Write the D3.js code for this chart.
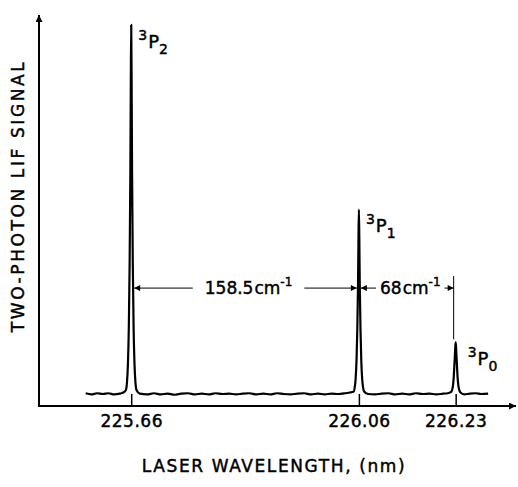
<!DOCTYPE html>
<html>
<head>
<meta charset="utf-8">
<script src="https://cdn.jsdelivr.net/npm/d3@7"></script>
<style>
  body { margin: 0; background: #fff; }
  text { font-family: "DejaVu Sans", sans-serif; fill: #000; stroke: #000; stroke-width: 0.45px; }
</style>
</head>
<body>
<div id="chart"></div>
<script>
// laser wavelength (nm) and LIF signal (arb. units)
const wavelength = [
  225.580, 225.590, 225.600, 225.610, 225.620, 225.630, 225.640, 225.646,
  225.6505, 225.6525, 225.6542, 225.6558, 225.6572, 225.6585, 225.6593, 225.660,
  225.6607, 225.6615, 225.6628, 225.6642, 225.6658, 225.6675, 225.6695,
  225.675, 225.688, 225.700, 225.712, 225.724, 225.736, 225.748, 225.760, 225.772, 225.784, 225.796, 225.808,
  225.820, 225.832, 225.844, 225.856, 225.868, 225.880, 225.892, 225.904, 225.916, 225.928, 225.940, 225.952,
  225.964, 225.976, 225.988, 226.000, 226.012, 226.024, 226.036, 226.044,
  226.0505, 226.0525, 226.0542, 226.0558, 226.0572, 226.0585, 226.0593, 226.060,
  226.0607, 226.0615, 226.0628, 226.0642, 226.0658, 226.0675, 226.0695,
  226.076, 226.088, 226.100, 226.112, 226.124, 226.136, 226.148, 226.160, 226.172, 226.184, 226.196, 226.208, 226.216,
  226.2215, 226.2235, 226.2252, 226.2266, 226.2278, 226.2288, 226.2294, 226.230,
  226.2306, 226.2312, 226.2322, 226.2334, 226.2348, 226.2365, 226.2385,
  226.245, 226.255, 226.265, 226.275, 226.287
];
const signal = [
  0.2, -0.1, 0.2, 0.0, 0.2, -0.1, 0.1, 0.4,
  1.0, 3, 8, 18, 35, 60, 85, 100,
  85, 60, 35, 18, 8, 3, 1.0,
  0.1, -0.1, 0.2, -0.1, 0.1, -0.2, 0.1, 0.2, -0.1, 0.1, -0.1, 0.2,
  0.0, 0.1, -0.1, 0.1, 0.2, -0.1, 0.1, -0.1, 0.2, 0.0, -0.1, 0.1,
  0.2, -0.1, 0.1, -0.1, 0.1, 0.0, 0.2, 0.4,
  0.6, 1.6, 4, 9, 17.5, 30, 42.5, 50,
  42.5, 30, 17.5, 9, 4, 1.6, 0.6,
  0.0, -0.1, 0.1, 0.2, -0.1, 0.1, -0.1, 0.2, 0.0, 0.1, -0.1, 0.1, 0.2,
  0.5, 1.0, 2.2, 4.5, 8, 11, 13, 14,
  13, 11, 8, 4.5, 2.2, 1.0, 0.4,
  -0.1, 0.1, 0.2, 0.0, 0.1
];

// transitions: labelled peaks
const peakWl = [225.66, 226.06, 226.23];
const peakTerm = ["2", "1", "0"];
const tickLabels = ["225.66", "226.06", "226.23"];
const spacingLabels = ["158.5", "68"];

const WIDTH = 518, HEIGHT = 487;
const X0 = 39, X1 = 516, Y0 = 406, Y1 = 15;

let x = d3.scaleLinear().domain([225.498, 226.336]).range([X0, X1]);
let y = d3.scaleLinear().domain([-3.25, 102.7]).range([Y0, Y1]);

let svg = d3.select("#chart").append("svg")
  .attr("width", WIDTH)
  .attr("height", HEIGHT);

let defs = svg.append("defs");
defs.append("marker")
  .attr("id", "arrow")
  .attr("viewBox", "0 0 10 10")
  .attr("refX", 10).attr("refY", 5)
  .attr("markerWidth", 12).attr("markerHeight", 7)
  .attr("markerUnits", "userSpaceOnUse")
  .attr("orient", "auto")
  .append("path").attr("d", "M0,0L10,5L0,10Z").attr("fill", "#000");
defs.append("marker")
  .attr("id", "arrowSmall")
  .attr("viewBox", "0 0 10 10")
  .attr("refX", 10).attr("refY", 5)
  .attr("markerWidth", 9).attr("markerHeight", 6)
  .attr("markerUnits", "userSpaceOnUse")
  .attr("orient", "auto")
  .append("path").attr("d", "M0,0L10,5L0,10Z").attr("fill", "#000");

// axes with arrow tips
svg.append("line")
  .attr("x1", X0).attr("y1", Y0).attr("x2", X0).attr("y2", Y1)
  .attr("stroke", "#000").attr("stroke-width", 2)
  .attr("marker-end", "url(#arrow)");
svg.append("line")
  .attr("x1", X0 - 1).attr("y1", Y0).attr("x2", X1).attr("y2", Y0)
  .attr("stroke", "#000").attr("stroke-width", 2)
  .attr("marker-end", "url(#arrow)");

// ticks point up to the baseline
let xAxis = d3.axisBottom(x)
  .tickValues(peakWl)
  .tickFormat((d, i) => tickLabels[i])
  .tickSizeInner(-(Y0 - y(0)))
  .tickSizeOuter(0)
  .tickPadding(9);
let gx = svg.append("g").attr("transform", "translate(0," + Y0 + ")").call(xAxis);
gx.select(".domain").remove();
gx.selectAll(".tick line").attr("stroke", "#000").attr("stroke-width", 1.5);
gx.selectAll(".tick text")
  .style("font-family", "DejaVu Sans")
  .style("font-size", "17px")
  .style("letter-spacing", "0.5px")
  .attr("fill", "#000");

// trace
let pts = wavelength.map((w, i) => [w, signal[i]]);
let line = d3.line()
  .x(d => x(d[0]))
  .y(d => y(d[1]))
  .curve(d3.curveMonotoneX);
svg.append("path")
  .datum(pts)
  .attr("d", line)
  .attr("fill", "none")
  .attr("stroke", "#000")
  .attr("stroke-width", 2.2)
  .attr("stroke-linejoin", "round");

// axis titles
svg.append("text")
  .attr("x", 274).attr("y", 472)
  .attr("text-anchor", "middle")
  .style("font-size", "17px")
  .style("letter-spacing", "1.6px")
  .text("LASER WAVELENGTH, (nm)");
svg.append("text")
  .attr("transform", "translate(24,196) rotate(-90)")
  .attr("text-anchor", "middle")
  .style("font-size", "17px")
  .style("letter-spacing", "2.6px")
  .text("TWO-PHOTON LIF SIGNAL");

// term labels 3P_J
let peakHeights = peakWl.map(w => signal[wavelength.indexOf(w)]);
peakWl.forEach((w, i) => {
  let t = svg.append("text")
    .attr("x", x(w) + 7 + (i === 2 ? 5 : 0))
    .attr("y", y(peakHeights[i]) + 23)
    .style("font-size", "18px");
  t.append("tspan").attr("baseline-shift", "8").style("font-size", "14px").text("3");
  t.append("tspan").attr("dx", 1).text("P");
  t.append("tspan").attr("baseline-shift", "-6").style("font-size", "14px").text(peakTerm[i]);
});

// spacing annotations
let ay = y(28.7);
function spacing(xa, xb, label, gap) {
  let t = svg.append("text")
    .attr("x", (xa + xb) / 2 + 3).attr("y", ay + 6)
    .attr("text-anchor", "middle")
    .style("font-size", "17px");
  t.append("tspan").text(label);
  t.append("tspan").attr("dx", 1).text("cm");
  t.append("tspan").attr("baseline-shift", "8").style("font-size", "12px").text("-1");
  let bb = t.node().getBBox();
  svg.append("line")
    .attr("x1", bb.x - gap).attr("y1", ay).attr("x2", xa).attr("y2", ay)
    .attr("stroke", "#000").attr("stroke-width", 1)
    .attr("marker-end", "url(#arrowSmall)");
  svg.append("line")
    .attr("x1", bb.x + bb.width + gap).attr("y1", ay).attr("x2", xb).attr("y2", ay)
    .attr("stroke", "#000").attr("stroke-width", 1)
    .attr("marker-end", "url(#arrowSmall)");
}
spacing(x(peakWl[0]) + 3, x(peakWl[1]) - 2, spacingLabels[0], 12);
spacing(x(peakWl[1]) + 2, x(peakWl[2]) - 2, spacingLabels[1], 4);

// guide line above the 3P0 peak
svg.append("line")
  .attr("x1", x(peakWl[2]) - 2).attr("x2", x(peakWl[2]) - 2)
  .attr("y1", ay - 12).attr("y2", y(peakHeights[2]) - 3)
  .attr("stroke", "#000").attr("stroke-width", 1);
</script>
</body>
</html>
